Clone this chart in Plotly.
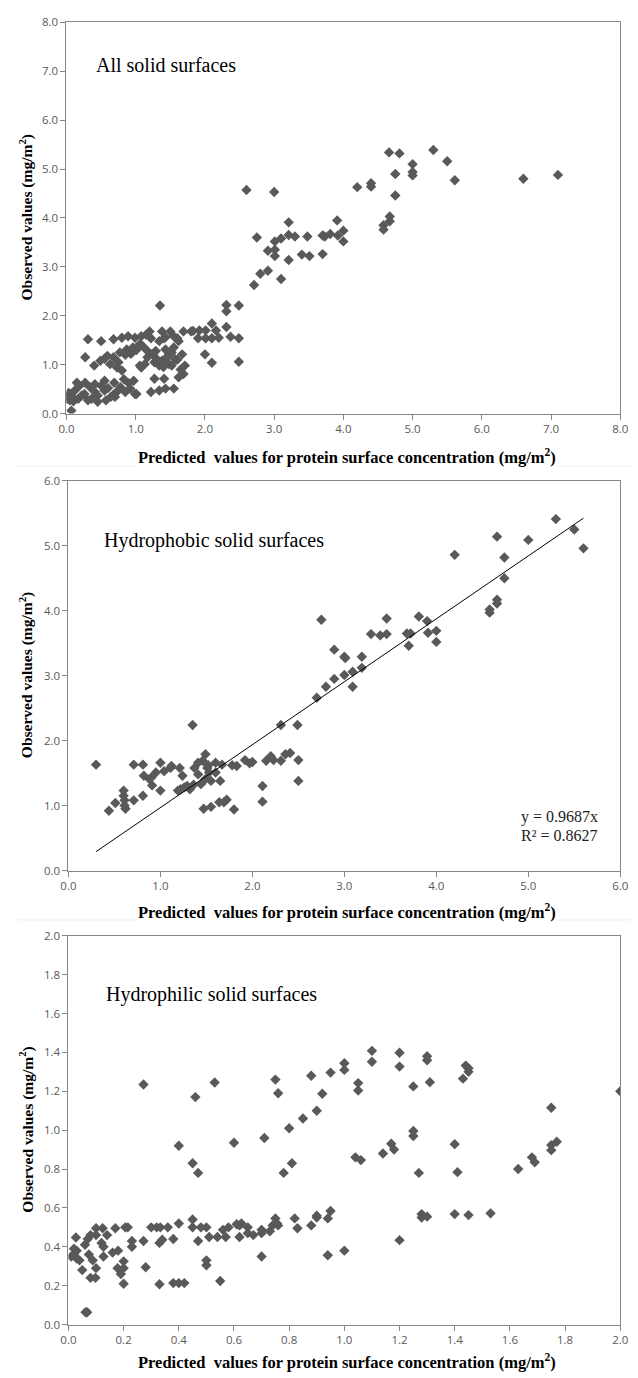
import plotly.graph_objects as go

W, H = 638, 1378

# ---------------- data: panel 1 (all solid surfaces) ----------------
all_pts = [
    (2.60,4.57),(3.00,4.53),(2.75,3.60),(3.21,3.91),(3.01,3.52),(3.10,3.58),(3.21,3.65),(3.30,3.62),(3.48,3.62),
    (2.91,3.33),(3.01,3.35),(3.01,3.22),(3.21,3.14),(3.40,3.25),(3.51,3.22),(2.80,2.86),(2.91,2.92),(3.10,2.75),(2.71,2.63),
    (3.70,3.64),(3.73,3.62),(3.81,3.67),(3.91,3.95),(3.92,3.64),(4.00,3.74),(4.00,3.52),(3.70,3.26),(4.20,4.63),
    (4.40,4.71),(4.40,4.64),(4.58,3.85),(4.58,3.76),(4.67,4.03),(4.67,3.93),(4.75,4.46),(4.75,4.90),(4.66,5.34),
    (4.81,5.32),(5.00,5.10),(5.00,4.94),(5.00,4.87),(5.30,5.39),(5.50,5.16),(5.61,4.77),(6.60,4.80),(7.10,4.88),
    (1.35,2.21),(2.31,2.22),(2.49,2.21),(2.31,2.09),(2.10,1.84),(2.31,1.77),(2.16,1.70),(2.37,1.57),(2.49,1.54),
    (2.20,1.55),(2.10,1.54),(2.01,1.54),(1.90,1.54),(2.00,1.21),(2.10,1.04),(2.49,1.06),(1.92,1.70),(1.80,1.68),
    (1.69,1.68),(2.01,1.70),(1.20,1.68),(1.38,1.68),(1.50,1.68),(1.83,1.69),(1.22,1.54),(1.41,1.54),(1.60,1.54),
    (1.43,1.56),(1.55,1.58),
    (0.31,1.52),(0.50,1.48),(0.68,1.52),(0.80,1.55),(0.89,1.58),(0.99,1.55),(1.08,1.58),(1.15,1.61),
    (0.27,1.15),(0.40,0.98),(0.49,1.08),(0.59,1.18),(0.68,1.15),(0.77,1.25),(0.87,1.31),(0.96,1.35),(1.06,1.42),
    (0.63,1.01),(0.73,0.94),(0.80,0.88),
    (1.06,0.98),(1.17,1.15),(1.17,1.28),(1.29,1.28),(1.38,1.08),(1.48,1.21),(1.57,1.11),(1.67,1.21),(1.71,0.98),
    (1.69,0.81),(1.62,0.74),(1.48,1.01),(1.34,0.98),(1.13,1.01),(1.27,1.05),(1.43,1.31),(1.55,1.35),(1.34,1.48),(1.62,1.48),
    (1.27,0.71),(1.41,0.71),(1.22,0.44),(1.34,0.47),(1.43,0.51),(1.55,0.51),(1.01,0.40),(0.70,0.34),(0.07,0.06),
    (0.15,0.63),(0.27,0.63),(0.41,0.60),(0.55,0.67),(0.69,0.63),(0.83,0.70),(0.97,0.67),(0.92,0.51),(0.99,0.40),
    (0.69,0.40),(0.57,0.27),(0.45,0.24),(0.31,0.27),(0.17,0.30),(0.05,0.40),(0.05,0.27),(0.12,0.47),(0.26,0.40),
    (0.41,0.44),(0.55,0.47),(0.78,0.54),(0.85,0.44),(0.50,0.57),(0.34,0.54),(0.19,0.57),(0.08,0.34),(0.22,0.37),
    (0.64,0.34),(0.45,0.37),(0.02,0.35),(0.03,0.42),(0.01,0.30),(0.10,0.25),(0.36,0.30),(0.60,0.52),(0.74,0.46),
    (0.90,0.62),(1.01,1.30),(1.10,1.38),(1.24,1.22),(1.30,1.12),(1.45,1.15),(1.52,1.25),(1.60,1.10),(1.65,0.90),
    (1.40,0.95),(1.52,0.98),(0.55,1.12),(0.93,1.22),(0.85,1.20),(0.75,1.05),(1.08,0.94),
]
all_x = [p[0] for p in all_pts]
all_y = [p[1] for p in all_pts]

# ---------------- data: panel 2 (hydrophobic) ----------------
phob_pts = [
    (0.30,1.63),(0.44,0.92),(0.51,1.04),(0.60,1.23),(0.60,1.15),(0.61,1.08),(0.61,1.00),(0.62,0.95),(0.71,1.63),
    (0.71,1.08),(0.81,1.63),(0.81,1.15),(0.82,1.46),(0.88,1.41),(0.91,1.31),(0.95,1.51),(0.90,1.43),(1.00,1.66),
    (1.00,1.23),(1.04,1.53),(1.11,1.58),(1.12,1.61),(1.21,1.58),(1.24,1.46),(1.19,1.23),(1.26,1.28),(1.32,1.25),
    (1.35,2.24),(1.37,1.58),(1.41,1.66),(1.49,1.79),(1.46,1.69),(1.51,1.58),(1.53,1.51),(1.41,1.48),(1.44,1.33),
    (1.49,1.41),(1.55,1.38),(1.60,1.51),(1.60,1.66),(1.67,1.63),(1.65,1.38),(1.47,0.95),(1.55,0.98),(1.64,1.05),
    (1.69,1.05),(1.72,1.09),(1.80,0.94),(1.78,1.62),(1.83,1.61),(1.92,1.70),(1.97,1.65),(2.00,1.67),(2.11,1.30),
    (2.11,1.06),(2.15,1.69),(2.20,1.76),(2.23,1.70),(2.31,1.69),(2.31,2.24),(2.36,1.79),(2.41,1.81),(2.49,2.24),
    (2.50,1.70),(2.50,1.38),(1.22,1.25),(1.29,1.30),(1.36,1.32),(1.52,1.62),
    (2.75,3.86),(2.70,2.66),(2.80,2.83),(2.89,2.95),(2.89,3.40),(3.00,3.01),(3.00,3.29),(3.01,3.27),(3.09,3.06),
    (3.09,2.83),(3.19,3.12),(3.19,3.29),(3.29,3.64),(3.39,3.62),(3.46,3.64),(3.46,3.88),(3.68,3.65),(3.72,3.65),
    (3.70,3.46),(3.81,3.91),(3.90,3.84),(3.91,3.66),(4.00,3.69),(4.00,3.52),(4.20,4.86),(4.58,4.02),(4.58,3.97),
    (4.66,4.17),(4.66,4.11),(4.66,5.14),(4.74,4.82),(4.74,4.50),(5.00,5.09),(5.30,5.41),(5.50,5.25),(5.60,4.96),
]
phob_x = [p[0] for p in phob_pts]
phob_y = [p[1] for p in phob_pts]
trend_x = [0.3, 5.6]
trend_slope = 0.9687
trend_r2 = "0.8627"

# ---------------- data: panel 3 (hydrophilic) ----------------
phil_pts = [
    (0.272,1.235),(0.53,1.245),(0.46,1.17),(0.75,1.26),(0.76,1.19),(0.88,1.28),(0.85,1.06),(0.90,1.10),(0.80,1.01),
    (0.71,0.96),(0.60,0.935),(0.40,0.92),(0.45,0.83),(0.47,0.78),(0.78,0.78),(0.81,0.83),
    (0.027,0.448),(0.02,0.39),(0.02,0.36),(0.03,0.34),(0.01,0.35),(0.03,0.38),(0.04,0.33),(0.05,0.28),(0.06,0.41),
    (0.07,0.44),(0.08,0.46),(0.074,0.36),(0.088,0.33),(0.08,0.24),(0.098,0.24),(0.068,0.063),(0.062,0.063),
    (0.10,0.495),(0.10,0.46),(0.10,0.29),(0.124,0.495),(0.12,0.42),(0.127,0.40),(0.127,0.35),(0.14,0.46),
    (0.16,0.37),(0.17,0.495),(0.18,0.38),(0.178,0.29),(0.19,0.26),(0.20,0.325),(0.20,0.29),(0.20,0.21),
    (0.206,0.50),(0.215,0.50),(0.23,0.43),(0.23,0.40),(0.272,0.43),(0.28,0.295),(0.30,0.50),(0.32,0.50),
    (0.33,0.42),(0.333,0.50),(0.34,0.436),(0.33,0.207),(0.36,0.50),(0.38,0.44),(0.38,0.213),(0.40,0.213),
    (0.42,0.213),(0.40,0.52),(0.45,0.54),(0.45,0.50),(0.47,0.43),(0.48,0.50),(0.50,0.50),(0.50,0.33),(0.50,0.305),
    (0.51,0.45),(0.54,0.45),(0.55,0.224),(0.56,0.487),(0.57,0.45),(0.58,0.50),(0.61,0.516),(0.62,0.51),(0.627,0.52),
    (0.62,0.45),(0.65,0.50),(0.65,0.47),(0.67,0.46),(0.70,0.35),(0.70,0.487),(0.70,0.47),(0.73,0.48),(0.74,0.51),
    (0.75,0.546),(0.756,0.52),(0.76,0.51),(0.82,0.546),(0.83,0.495),(0.88,0.51),(0.90,0.56),
    (0.95,1.296),(1.00,1.344),(1.00,1.31),(1.10,1.408),(1.10,1.352),(1.20,1.398),(1.20,1.327),(1.30,1.38),(1.30,1.36),
    (1.31,1.247),(1.25,1.225),(1.05,1.242),(1.05,1.204),(1.44,1.332),(1.45,1.318),(1.45,1.30),(1.43,1.265),(0.92,1.187),
    (2.00,1.20),(1.75,1.115),(1.25,0.996),(1.25,0.97),(1.17,0.93),(1.18,0.90),(1.40,0.928),(1.04,0.86),(1.06,0.846),
    (1.14,0.88),(1.27,0.78),(1.41,0.784),(1.63,0.80),(1.68,0.86),(1.69,0.835),(1.75,0.923),(1.75,0.897),(1.77,0.94),
    (0.90,0.55),(0.94,0.546),(0.95,0.584),(0.94,0.356),(1.00,0.38),(1.20,0.434),(1.28,0.568),(1.28,0.55),(1.30,0.555),
    (1.40,0.568),(1.45,0.563),(1.53,0.572),
]
phil_x = [p[0] for p in phil_pts]
phil_y = [p[1] for p in phil_pts]

x_title = "Predicted\u00a0 values for protein surface concentration (mg/m<sup>2</sup>)"
y_title = "Observed values (mg/m<sup>2</sup>)"
panel_labels = ["All solid surfaces", "Hydrophobic solid surfaces", "Hydrophilic solid surfaces"]

SERIF = "Times New Roman, Liberation Serif"
MARK = dict(symbol="diamond", size=8, color="#595959", line=dict(width=0))

def px_x(v):
    return v / W

def px_y(v):
    return 1 - v / H

# pixel boxes: (left, right, top, bottom)
boxes = [(60, 628, 14.5, 410), (62, 628, 478, 872), (62, 628, 938, 1331)]
ranges = [(8, 1.0), (6, 1.0), (2, 0.2)]

fig = go.Figure()
fig.add_trace(go.Scatter(x=all_x, y=all_y, mode="markers", marker=MARK, xaxis="x", yaxis="y", showlegend=False))
fig.add_trace(go.Scatter(x=phob_x, y=phob_y, mode="markers", marker=MARK, xaxis="x2", yaxis="y2", showlegend=False))
fig.add_trace(go.Scatter(x=trend_x, y=[trend_slope * v for v in trend_x], mode="lines",
                         line=dict(color="black", width=1), xaxis="x2", yaxis="y2", showlegend=False))
fig.add_trace(go.Scatter(x=phil_x, y=phil_y, mode="markers", marker=MARK, xaxis="x3", yaxis="y3", showlegend=False))

tickfont = dict(family="Open Sans", size=11.5, color="#595959")
layout = dict(
    width=W, height=H, margin=dict(l=0, r=0, t=0, b=0),
    paper_bgcolor="white", plot_bgcolor="white",
)
annotations = []
shapes = []
for i, ((l, r, t, b), (mx, dt)) in enumerate(zip(boxes, ranges)):
    sx = "" if i == 0 else str(i + 1)
    fmt = ".1f"
    layout["xaxis" + sx] = dict(
        domain=[px_x(l), px_x(r)], range=[0, mx], dtick=dt, tick0=0, tickformat=fmt,
        anchor="y" + sx, showgrid=False, zeroline=False, showline=True, linecolor="#868686",
        linewidth=1, mirror=True, ticks="outside", ticklen=5, tickcolor="#868686", tickfont=tickfont,
    )
    layout["yaxis" + sx] = dict(
        domain=[px_y(b), px_y(t)], range=[0, mx], dtick=dt, tick0=0, tickformat=fmt,
        anchor="x" + sx, showgrid=False, zeroline=False, showline=True, linecolor="#868686",
        linewidth=1, mirror=True, ticks="outside", ticklen=5, tickcolor="#868686", tickfont=tickfont,
    )
    annotations.append(dict(
        text="<b>" + y_title + "</b>", textangle=-90, x=px_x(19), y=px_y((t + b) / 2),
        xref="paper", yref="paper", showarrow=False,
        font=dict(family=SERIF, size=15.5, color="black"), xanchor="center", yanchor="middle"))

label_pos = [(88, 58), (96, 538), (98, 997)]
for (lx, ly), txt in zip(label_pos, panel_labels):
    annotations.append(dict(
        text=txt, x=px_x(lx), y=px_y(ly), xref="paper", yref="paper", showarrow=False,
        xanchor="left", yanchor="middle", font=dict(family=SERIF, size=20, color="black")))

for ty in (453, 913, 1368):
    annotations.append(dict(
        text="<b>" + x_title + "</b>", x=px_x(348), y=px_y(ty), xref="paper", yref="paper", showarrow=False,
        xanchor="center", yanchor="middle", font=dict(family=SERIF, size=16.5, color="black"),
        bgcolor="white"))

annotations.append(dict(
    text=f"y = {trend_slope}x", x=px_x(607), y=px_y(818), xref="paper", yref="paper", showarrow=False,
    xanchor="right", yanchor="middle", font=dict(family=SERIF, size=16, color="#222")))
annotations.append(dict(
    text="R\u00b2 = " + trend_r2, x=px_x(607), y=px_y(837), xref="paper", yref="paper", showarrow=False,
    xanchor="right", yanchor="middle", font=dict(family=SERIF, size=16, color="#222")))

for sy in (463, 922):
    shapes.append(dict(type="line", xref="paper", yref="paper", x0=px_x(10), x1=1, y0=px_y(sy), y1=px_y(sy),
                       line=dict(color="#efefef", width=1), layer="below"))

layout["annotations"] = annotations
layout["shapes"] = shapes
fig.update_layout(**layout)
fig.write_html(
    "out.html",
    config={"displayModeBar": False},
    post_script="document.body.style.margin='0px';document.body.style.padding='0px';"
                "document.body.style.overflow='hidden';",
)
